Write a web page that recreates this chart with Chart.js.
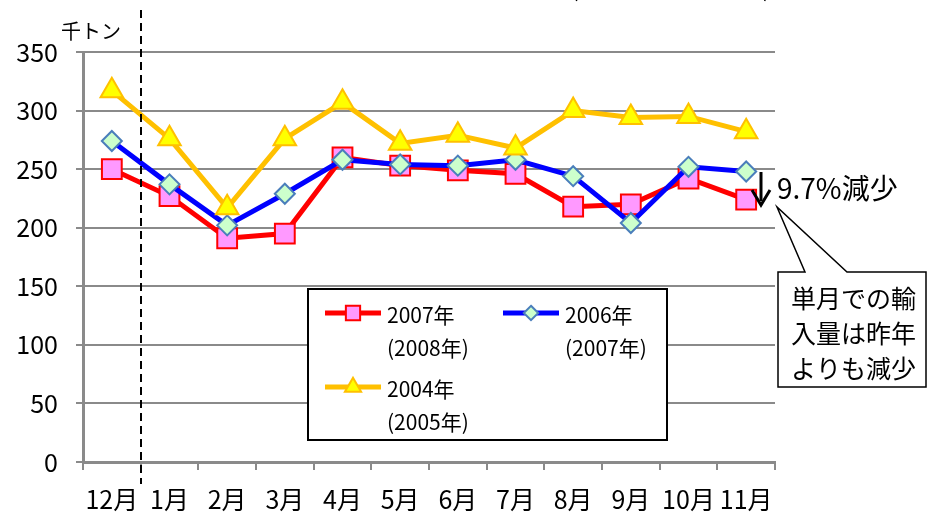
<!DOCTYPE html>
<html>
<head>
<meta charset="utf-8">
<script src="https://cdn.jsdelivr.net/npm/chart.js@4.4.0/dist/chart.umd.min.js"></script>
<style>
    html, body { margin: 0; padding: 0; background: #fff; }
    #wrap { width: 929px; height: 515px; position: relative; }
</style>
</head>
<body>
<div id="wrap"><canvas id="importChart"></canvas></div>
<script>
// chart data
const months = ['12月', '1月', '2月', '3月', '4月', '5月', '6月', '7月', '8月', '9月', '10月', '11月'];
const yMin = 0;
const yMax = 350;
const yStep = 50;
const imports2007 = [250, 227, 191, 195, 260, 253, 249, 246, 218, 220, 242, 224];
const imports2006 = [274, 237, 202, 229, 258, 254, 253, 258, 244, 204, 252, 248];
const imports2004 = [317, 276, 217, 276, 307, 272, 279, 268, 300, 294, 295, 282];
const seriesNames = [['2007年', '(2008年)'], ['2006年', '(2007年)'], ['2004年', '(2005年)']];
const unitLabel = '千トン';
const dropLabel = '9.7%減少';
const noteLines = ['単月での輸', '入量は昨年', 'よりも減少'];

const FONT = "'Noto Sans CJK JP', 'Noto Sans', sans-serif";
const GRID = '#8a8a8a';

// marker drawing used for the hand-made legend (smaller than on the plot)
function drawMarker(ctx, ds, x, y, scale) {
    const r = ds.pointRadius * scale;
    ctx.save();
    ctx.fillStyle = ds.pointBackgroundColor;
    ctx.strokeStyle = ds.pointBorderColor;
    ctx.lineWidth = ds.pointBorderWidth;
    ctx.beginPath();
    if (ds.pointStyle === 'rect') {
        const s = r * Math.SQRT1_2;
        ctx.rect(x - s, y - s, 2 * s, 2 * s);
    } else if (ds.pointStyle === 'rectRot') {
        ctx.moveTo(x, y - r);
        ctx.lineTo(x + r, y);
        ctx.lineTo(x, y + r);
        ctx.lineTo(x - r, y);
        ctx.closePath();
    } else {
        const h = r * Math.sqrt(3) / 2;
        ctx.moveTo(x, y - r);
        ctx.lineTo(x + h, y + r / 2);
        ctx.lineTo(x - h, y + r / 2);
        ctx.closePath();
    }
    ctx.fill();
    ctx.stroke();
    ctx.restore();
}

const extrasPlugin = {
    id: 'extras',
    afterDraw(chart) {
        const ctx = chart.ctx;
        const xs = chart.scales.x;
        ctx.save();

        // cut-off bracket text at the very top
        ctx.fillStyle = '#000';
        ctx.font = '22px ' + FONT;
        ctx.textBaseline = 'alphabetic';
        ctx.textAlign = 'left';
        ctx.fillText('(', 571, -3);
        ctx.fillText(')', 763, -3);

        // dashed separator between 12月 and 1月
        const sepX = Math.round((xs.getPixelForValue(0) + xs.getPixelForValue(1)) / 2);
        ctx.strokeStyle = '#000';
        ctx.lineWidth = 2;
        ctx.setLineDash([8, 5]);
        ctx.beginPath();
        ctx.moveTo(sepX, 10);
        ctx.lineTo(sepX, 484);
        ctx.stroke();
        ctx.setLineDash([]);

        // unit label
        ctx.font = '20px ' + FONT;
        ctx.textBaseline = 'middle';
        ctx.fillText(unitLabel, 61, 31);

        // legend
        ctx.fillStyle = '#fff';
        ctx.fillRect(308, 289, 359, 151);
        ctx.strokeStyle = '#000';
        ctx.lineWidth = 2;
        ctx.strokeRect(308, 289, 359, 151);
        const slots = [[325, 315], [503, 315], [325, 389]];
        chart.data.datasets.forEach((ds, i) => {
            const [lx, ly] = slots[i];
            ctx.strokeStyle = ds.borderColor;
            ctx.lineWidth = ds.borderWidth;
            ctx.beginPath();
            ctx.moveTo(lx, ly - 2);
            ctx.lineTo(lx + 56, ly - 2);
            ctx.stroke();
            drawMarker(ctx, ds, lx + 28, ly - 2, 0.72);
            ctx.fillStyle = '#000';
            ctx.font = '21px ' + FONT;
            ctx.textAlign = 'left';
            ctx.textBaseline = 'middle';
            seriesNames[i].forEach((t, j) => ctx.fillText(t, lx + 62, ly + j * 33));
        });

        // down arrow next to last point
        ctx.strokeStyle = '#000';
        ctx.lineWidth = 3;
        ctx.beginPath();
        ctx.moveTo(761, 172);
        ctx.lineTo(761, 201);
        ctx.stroke();
        ctx.beginPath();
        ctx.moveTo(752, 190);
        ctx.lineTo(761, 205);
        ctx.lineTo(770, 190);
        ctx.stroke();

        ctx.fillStyle = '#000';
        ctx.font = '28px ' + FONT;
        ctx.textBaseline = 'middle';
        ctx.fillText(dropLabel, 777, 188);

        // callout box
        ctx.fillStyle = '#fff';
        ctx.lineWidth = 1.5;
        ctx.beginPath();
        ctx.moveTo(778, 272);
        ctx.lineTo(805, 272);
        ctx.lineTo(777, 207);
        ctx.lineTo(847, 272);
        ctx.lineTo(926, 272);
        ctx.lineTo(926, 387);
        ctx.lineTo(778, 387);
        ctx.closePath();
        ctx.fill();
        ctx.stroke();
        ctx.fillStyle = '#000';
        ctx.font = '25px ' + FONT;
        noteLines.forEach((t, j) => ctx.fillText(t, 791, 298 + j * 35));

        ctx.restore();
    }
};

const ctx = document.getElementById('importChart').getContext('2d');
new Chart(ctx, {
    type: 'line',
    data: {
        labels: months,
        datasets: [
            {
                label: seriesNames[0].join(''),
                data: imports2007,
                borderColor: '#ff0000',
                borderWidth: 5,
                pointStyle: 'rect',
                pointRadius: 14,
                pointBackgroundColor: '#ff99ff',
                pointBorderColor: '#ff0000',
                pointBorderWidth: 2,
                order: 3
            },
            {
                label: seriesNames[1].join(''),
                data: imports2006,
                borderColor: '#0000ff',
                borderWidth: 5,
                pointStyle: 'rectRot',
                pointRadius: 10,
                pointBackgroundColor: '#ccffcc',
                pointBorderColor: '#4a7ebb',
                pointBorderWidth: 2,
                order: 2
            },
            {
                label: seriesNames[2].join(''),
                data: imports2004,
                borderColor: '#ffc000',
                borderWidth: 5,
                pointStyle: 'triangle',
                pointRadius: 13,
                pointBackgroundColor: '#ffff00',
                pointBorderColor: '#ffc000',
                pointBorderWidth: 2,
                order: 1
            }
        ]
    },
    options: {
        responsive: true,
        maintainAspectRatio: false,
        animation: false,
        layout: {
            padding: { top: 52, right: 154, bottom: 0, left: 0 }
        },
        scales: {
            x: {
                offset: true,
                afterFit: scale => { scale.height = 53; },
                grid: {
                    offset: true,
                    drawOnChartArea: false,
                    drawTicks: true,
                    tickLength: 8,
                    color: GRID,
                    lineWidth: 2
                },
                border: { display: true, color: GRID, width: 3 },
                ticks: {
                    color: '#000',
                    padding: 14,
                    maxRotation: 0,
                    autoSkip: false,
                    font: { family: FONT, size: 25 }
                }
            },
            y: {
                min: yMin,
                max: yMax,
                afterFit: scale => { scale.width = 83; },
                grid: {
                    color: GRID,
                    lineWidth: 2,
                    tickLength: 7
                },
                border: { display: true, color: GRID, width: 3 },
                ticks: {
                    stepSize: yStep,
                    color: '#000',
                    padding: 18,
                    font: { family: FONT, size: 25 }
                }
            }
        },
        plugins: {
            legend: { display: false },
            tooltip: { enabled: false },
            title: { display: false }
        }
    },
    plugins: [extrasPlugin]
});
</script>
</body>
</html>
